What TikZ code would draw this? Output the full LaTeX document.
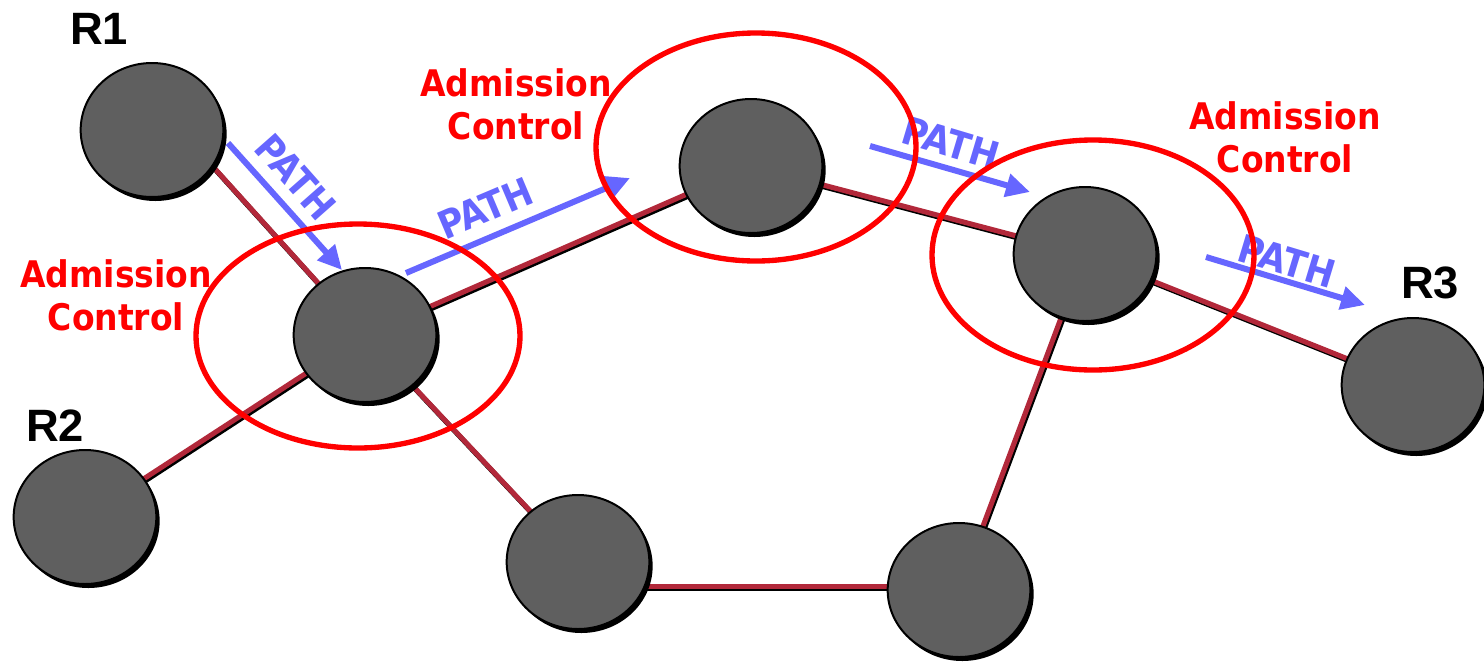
\documentclass[tikz,border=0pt]{standalone}
\usepackage{fontspec}
\setmainfont{DejaVu Sans}
\newfontfamily\acfont{DejaVu Sans Condensed}
\newfontfamily\rfont{Liberation Sans}
\usetikzlibrary{shapes.geometric,shadows,arrows.meta,backgrounds}

\definecolor{routergray}{RGB}{95,95,95}
\definecolor{linkred}{RGB}{178,40,58}
\definecolor{pathblue}{RGB}{102,102,255}

\tikzset{every picture/.style={line width=0.75pt}}
\tikzset{
  router/.style={ellipse, draw=black, line width=1.5pt, fill=routergray,
    minimum width=107pt, minimum height=100.5pt, inner sep=0pt,
    drop shadow={shadow xshift=2.5pt, shadow yshift=-3pt, fill=black, opacity=1}},
  link/.style={draw=linkred, line width=3.8pt},
  linkshade/.style={draw=black, line width=3.8pt},
  admit/.style={draw=red, line width=4pt},
  acnote/.style={text=red, font=\acfont\bfseries\fontsize{27.5}{32}\selectfont, align=center},
  rname/.style={font=\rfont\bfseries\fontsize{34}{40}\selectfont},
  patharrow/.style={draw=pathblue, line width=4.5pt, -{Triangle[length=18pt,width=17pt]}},
  pathlabel/.style={text=pathblue, font=\acfont\bfseries\fontsize{29}{32}\selectfont, inner sep=0pt}
}

\begin{document}
\begin{tikzpicture}[x=0.75pt,y=0.75pt,yscale=-1,xscale=1]
	\useasboundingbox (0,0) rectangle (1484,661);

	% Routers
	\node[router] (r1) at (152,130) {};
	\node[router] (r2) at (85,517) {};
	\node[router] (r3) at (1413,385) {};
	\node[router] (n1) at (365,335) {};
	\node[router] (n2) at (751,166) {};
	\node[router] (n3) at (1085,254) {};
	\node[router] (n4) at (578,562) {};
	\node[router] (n5) at (959,590) {};

	% Links, with a dark edge underneath
	\coordinate (n5w) at (n4.-20 -| n5.center);
	\begin{scope}[on background layer]
	\foreach \u/\v in {r1.-31/n1.center, r2.center/n1.center, n1.center/n2.center,
		n2.center/n3.center, n3.center/r3.center, n1.center/n4.center,
		n4.-20/n5w, n5.center/n3.center}{
		\draw[linkshade] ([shift={(1.5,2)}]\u) -- ([shift={(1.5,2)}]\v);
		\draw[link] (\u) -- (\v);
	}
	\end{scope}

	% Router names
	\node[rname] (r1lbl) at (99,29) {R1};
	\node[rname] (r2lbl) at (55,426) {R2};
	\node[rname] (r3lbl) at (1430,283) {R3};

	% PATH messages
	\coordinate (p1s) at (228,143);
	\coordinate (p1e) at (342,270);
	\coordinate (p2s) at (406,273);
	\coordinate (p2e) at (630,178);
	\coordinate (p3s) at (870,146);
	\coordinate (p3e) at (1030,192);
	\coordinate (p4s) at (1206,257);
	\coordinate (p4e) at (1365,305);

	\draw[patharrow] (p1s) -- (p1e);
	\draw[patharrow] (p2s) -- (p2e);
	\draw[patharrow] (p3s) -- (p3e);
	\draw[patharrow] (p4s) -- (p4e);

	\node[pathlabel, rotate=-48.6] (m1) at (296,177) {PATH};
	\node[pathlabel, rotate=22.9] (m2) at (485,208) {PATH};
	\node[pathlabel, rotate=-16.6] (m3) at (951,143) {PATH};
	\node[pathlabel, rotate=-16.8] (m4) at (1287,261) {PATH};

	% Admission control rings
	\draw[admit] (358,336) ellipse [x radius=162, y radius=112];
	\draw[admit] (756,147) ellipse [x radius=160, y radius=114];
	\draw[admit] (1093,255) ellipse [x radius=161, y radius=115];

	\node[acnote] (ac1) at (116,295) {Admission\\Control};
	\node[acnote] (ac2) at (516,104) {Admission\\Control};
	\node[acnote] (ac3) at (1285,137) {Admission\\Control};

\end{tikzpicture}
\end{document}
